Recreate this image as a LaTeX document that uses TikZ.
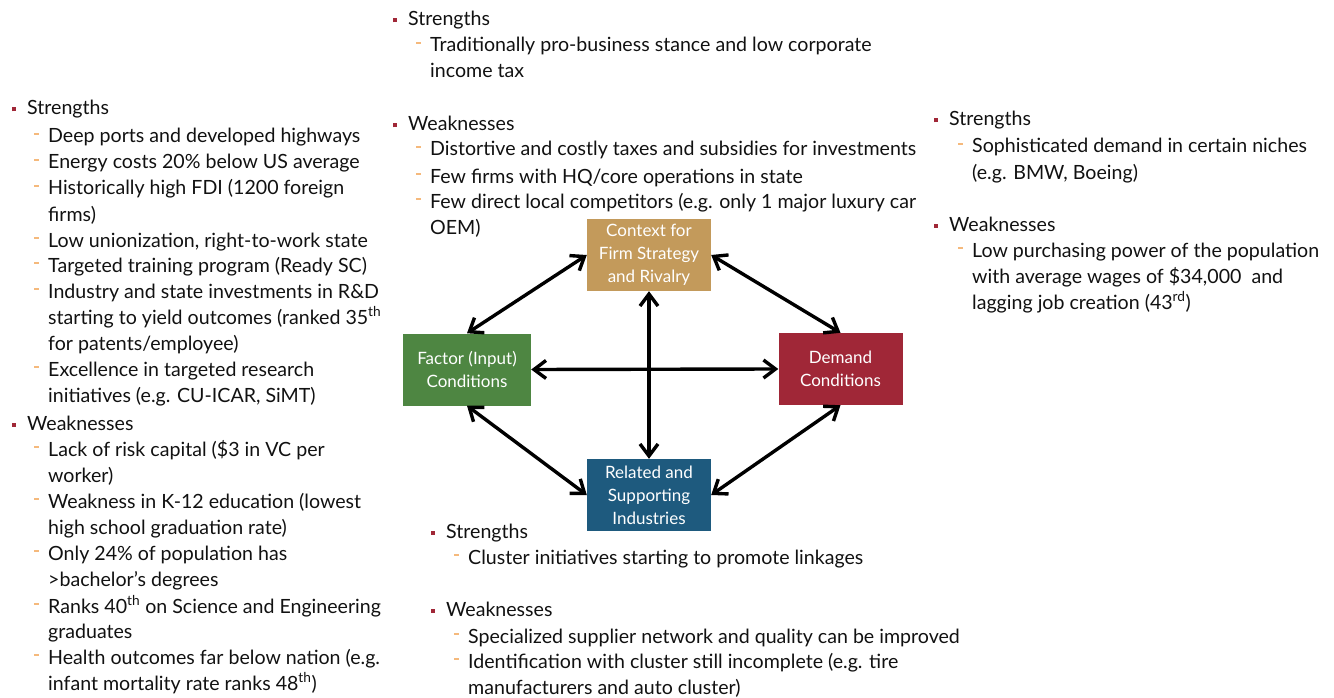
\documentclass[tikz,border=0pt]{standalone}
\usepackage{fontspec}
\setmainfont{Lato}
\usetikzlibrary{arrows.meta}
\definecolor{ctxtan}{HTML}{C39A5B}
\definecolor{facgreen}{HTML}{4E8642}
\definecolor{demred}{HTML}{A02737}
\definecolor{relblue}{HTML}{1E5A7E}
\definecolor{bulred}{HTML}{A02737}
\definecolor{dshorange}{HTML}{F5B97C}
\definecolor{txtgray}{HTML}{111111}
\newcommand\bul{\llap{\textcolor{bulred}{\rule[3.5pt]{4pt}{4pt}}\hspace{11pt}}}
\newcommand\dsh{\llap{\textcolor{dshorange}{\rule[8pt]{5pt}{1.6pt}}\hspace{9pt}}}
\tikzset{
  porter box/.style={
    minimum width=124pt,
    minimum height=72pt,
    inner sep=0pt,
    text=white,
    align=center,
    font=\fontsize{17}{23}\selectfont
  },
  line/.style={
    anchor=base west,
    inner sep=0pt,
    text=txtgray,
    font=\fontsize{19.6}{26}\selectfont
  },
  link/.style={
    line width=3.4pt,
    {Straight Barb[length=12pt,width=18pt]}-{Straight Barb[length=12pt,width=18pt]}
  }
}

\begin{document}
\begin{tikzpicture}[x=1pt,y=-1pt]
\useasboundingbox (0,0) rectangle (1334,698);
% the diamond
\node[porter box,fill=ctxtan]   (ctx) at (649,255)   {Context for\\Firm Strategy\\and Rivalry};
\node[porter box,fill=facgreen,minimum width=128pt] (fac) at (467,369.5) {Factor (Input)\\Conditions};
\node[porter box,fill=demred]   (dem) at (840.5,369) {Demand\\Conditions};
\node[porter box,fill=relblue]  (rel) at (649,495)   {Related and\\Supporting\\Industries};
\draw[link] (ctx.west)  -- (fac.north);
\draw[link] (ctx.east)  -- (dem.north);
\draw[link] (fac.south) -- (rel.west);
\draw[link] (dem.south) -- (rel.east);
\draw[link] (ctx.south) -- (rel.north);
\draw[link] (fac.east)  -- (dem.west);
% factor conditions
\node[line] (fs0) at (27,115) {\bul Strengths};
\node[line] (fs1) at (48,143) {\dsh Deep ports and developed highways};
\node[line] (fs2) at (48,169) {\dsh Energy costs 20\% below US average};
\node[line] (fs3) at (48,195) {\dsh Historically high FDI (1200 foreign};
\node[line] (fs4) at (48,221) {firms)};
\node[line] (fs5) at (48,247) {\dsh Low unionization, right-to-work state};
\node[line] (fs6) at (48,272) {\dsh Targeted training program (Ready SC)};
\node[line] (fs7) at (48,298) {\dsh Industry and state investments in R\&D};
\node[line] (fs8) at (48,324) {starting to yield outcomes (ranked 35\textsuperscript{th}};
\node[line] (fs9) at (48,350) {for patents/employee)};
\node[line] (fs10) at (48,376) {\dsh Excellence in targeted research};
\node[line] (fs11) at (48,402) {initiatives (e.g. CU-ICAR, SiMT)};
\node[line] (fw0) at (27,430) {\bul Weaknesses};
\node[line] (fw1) at (48,456) {\dsh Lack of risk capital (\$3 in VC per};
\node[line] (fw2) at (48,482) {worker)};
\node[line] (fw3) at (48,508) {\dsh Weakness in K-12 education (lowest};
\node[line] (fw4) at (48,534) {high school graduation rate)};
\node[line] (fw5) at (48,560) {\dsh Only 24\% of population has};
\node[line] (fw6) at (48,586) {>bachelor’s degrees};
\node[line] (fw7) at (48,613) {\dsh Ranks 40\textsuperscript{th} on Science and Engineering};
\node[line] (fw8) at (48,638) {graduates};
\node[line] (fw9) at (48,664) {\dsh Health outcomes far below nation (e.g.};
\node[line] (fw10) at (48,690) {infant mortality rate ranks 48\textsuperscript{th})};
% context for firm strategy
\node[line] (cs0) at (408,26) {\bul Strengths};
\node[line] (cs1) at (430,52) {\dsh Traditionally pro-business stance and low corporate};
\node[line] (cs2) at (430,78) {income tax};
\node[line] (cw0) at (408,131) {\bul Weaknesses};
\node[line] (cw1) at (430,156) {\dsh Distortive and costly taxes and subsidies for investments};
\node[line] (cw2) at (430,183) {\dsh Few firms with HQ/core operations in state};
\node[line] (cw3) at (430,208) {\dsh Few direct local competitors (e.g. only 1 major luxury car};
\node[line] (cw4) at (430,234) {OEM)};
% demand conditions
\node[line] (ds0) at (949,126) {\bul Strengths};
\node[line] (ds1) at (972,153) {\dsh Sophisticated demand in certain niches};
\node[line] (ds2) at (972,179) {(e.g. BMW, Boeing)};
\node[line] (dw0) at (949,231) {\bul Weaknesses};
\node[line] (dw1) at (972,257) {\dsh Low purchasing power of the population};
\node[line] (dw2) at (972,283) {with average wages of \$34,000 \ and};
\node[line] (dw3) at (972,309) {lagging job creation (43\textsuperscript{rd})};
% related and supporting industries
\node[line] (rs0) at (446,538) {\bul Strengths};
\node[line] (rs1) at (468,564) {\dsh Cluster initiatives starting to promote linkages};
\node[line] (rw0) at (446,616) {\bul Weaknesses};
\node[line] (rw1) at (468,643) {\dsh Specialized supplier network and quality can be improved};
\node[line] (rw2) at (468,668) {\dsh Identification with cluster still incomplete (e.g. tire};
\node[line] (rw3) at (468,694) {manufacturers and auto cluster)};
\end{tikzpicture}
\end{document}
